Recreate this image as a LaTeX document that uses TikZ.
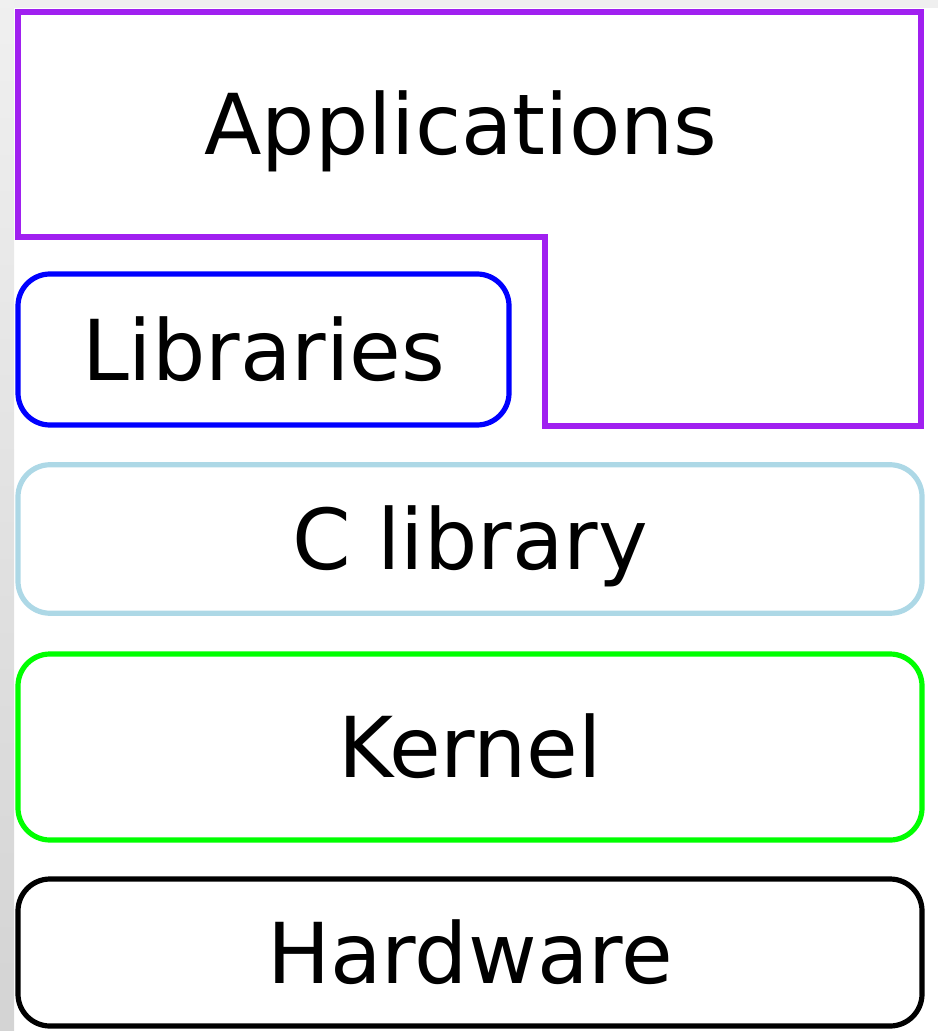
\documentclass[tikz,border=0pt]{standalone}
\usepackage{fontspec}
\setmainfont{DejaVu Sans}
\usepackage{tikz}
\definecolor{appPurple}{RGB}{160,32,240}
\definecolor{clibBlue}{RGB}{173,216,230}
\definecolor{kernGreen}{RGB}{0,255,0}
\definecolor{bandGray}{RGB}{239,239,239}

\begin{document}
\begin{tikzpicture}[
    x=0.5pt, y=-0.5pt,
    layer/.style={rounded corners=16pt,draw,line width=2.6pt,inner sep=0pt,
        font=\fontsize{42}{50}\selectfont,text height=30.6pt,text depth=0pt,
        minimum width=452pt},
    label/.style={inner sep=0pt,font=\fontsize{42}{50}\selectfont,text height=30.6pt,text depth=0pt}
]
    \useasboundingbox (0,0) rectangle (938,1031);
    % screenshot edges
    \shade[top color=gray!12, bottom color=gray!34] (0,0) rectangle (14,1031);
    \fill[bandGray] (14,0) rectangle (938,8);

    % applications sit on top and reach down beside the libraries
    \draw[appPurple,line width=2.6pt] (18,12) -- (921,12) -- (921,426) -- (545,426)
        -- (545,237) -- (18,237) -- cycle;
    \node[label] (apps) at (461,123.5) {Applications};

    \node[layer,draw=blue,minimum width=245.5pt,minimum height=75.5pt] (libs) at (263.5,349.5) {Libraries};
    \node[layer,draw=clibBlue,minimum height=74.25pt] (clib) at (470,539) {C library};
    \node[layer,draw=kernGreen,minimum height=93pt] (kernel) at (470,747) {Kernel};
    \node[layer,draw=black,minimum height=73.5pt] (hw) at (470,952.5) {Hardware};
\end{tikzpicture}
\end{document}
